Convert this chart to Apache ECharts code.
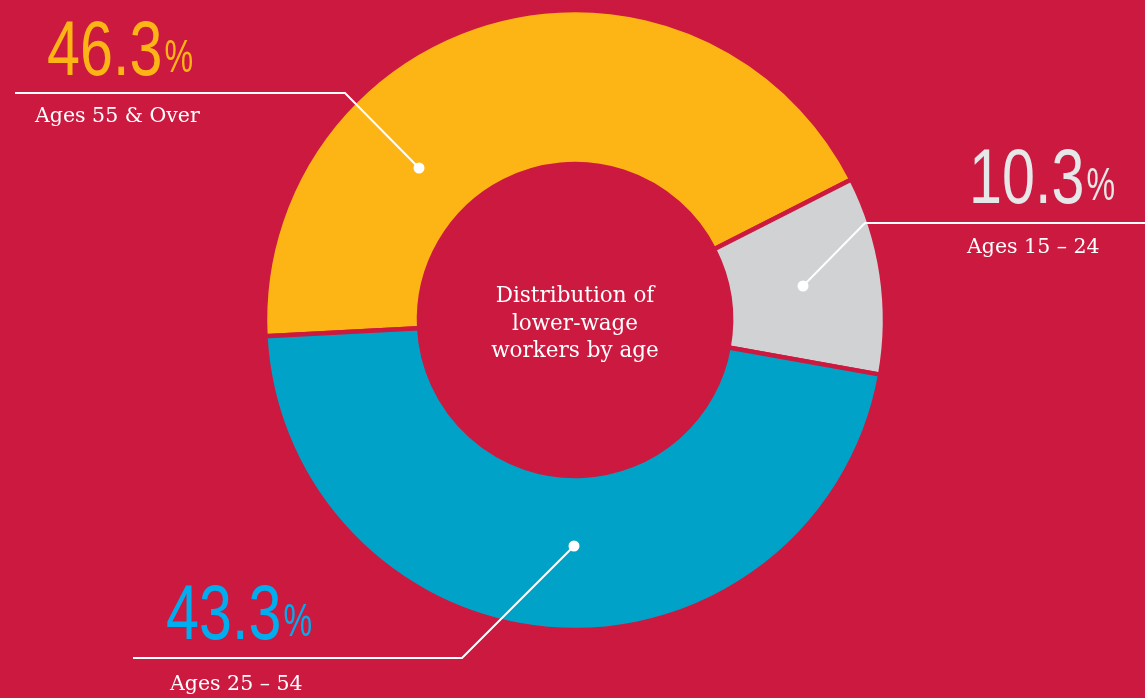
<!DOCTYPE html>
<html><head><meta charset="utf-8">
<script src="https://cdn.jsdelivr.net/npm/echarts@6/dist/echarts.min.js"></script>
<style>html,body{margin:0;padding:0;background:#CC1940;} #c{width:1145px;height:698px;}</style>
</head><body><div id="c"></div>
<script>
// Data
const categories = ['Ages 55 & Over', 'Ages 15 – 24', 'Ages 25 – 54'];
const sliceValues = [43.3, 10.3, 46.3];        // slice sizes as drawn
const labelValues = ['46.3', '10.3', '43.3'];  // printed percentages
const centerTitle = ['Distribution of', 'lower-wage', 'workers by age'];

const BG = '#CC1940';
const sliceColors = ['#FDB515', '#D1D2D4', '#00A3C7'];
const numberColors = ['#FDB515', '#E6E7E8', '#00AEEF'];

const NUM_FONT = '"Liberation Sans", Arial, sans-serif';
const SERIF = '"DejaVu Serif", serif';
const numSize = 78, pctSize = 46, nameSize = 20.5, centerSize = 21.5;
const numScale = 0.76, pctScale = 0.7;

// annotation layout: dot, elbow, end of rule, number position, name position
const annos = [
  {dot: [419, 168], elbow: [345, 93], end: [15, 93], num: [47, 53], name: [35, 117]},
  {dot: [803, 286], elbow: [865, 223], end: [1145, 223], num: [969, 181], name: [967, 248]},
  {dot: [574, 546], elbow: [462, 658], end: [133, 658], num: [166, 617], name: [170, 685]}
];

const ctx = document.createElement('canvas').getContext('2d');
function textWidth(t, size, fam) { ctx.font = size + 'px ' + fam; return ctx.measureText(t).width; }

const graphics = [];
annos.forEach((a, i) => {
  graphics.push({type: 'polyline', z: 100, silent: true,
    shape: {points: [a.dot, a.elbow, a.end]},
    style: {stroke: '#ffffff', lineWidth: 2, fill: null}});
  graphics.push({type: 'circle', z: 101, silent: true,
    shape: {cx: a.dot[0], cy: a.dot[1], r: 5.5}, style: {fill: '#ffffff'}});
  graphics.push({type: 'text', z: 100, silent: true, x: a.num[0], y: a.num[1], scaleX: numScale,
    style: {text: labelValues[i], font: numSize + 'px ' + NUM_FONT, fill: numberColors[i],
      align: 'left', verticalAlign: 'middle'}});
  const w = textWidth(labelValues[i], numSize, NUM_FONT) * numScale;
  graphics.push({type: 'text', z: 100, silent: true, x: a.num[0] + w + 2, y: a.num[1] + 6, scaleX: pctScale,
    style: {text: '%', font: pctSize + 'px ' + NUM_FONT, fill: numberColors[i],
      align: 'left', verticalAlign: 'middle'}});
  graphics.push({type: 'text', z: 100, silent: true, x: a.name[0], y: a.name[1],
    style: {text: categories[i], font: nameSize + 'px ' + SERIF, fill: '#ffffff',
      align: 'left', verticalAlign: 'middle'}});
});
graphics.push({type: 'text', z: 100, silent: true, x: 575, y: 324,
  style: {text: centerTitle.join('\n'), font: centerSize + 'px ' + SERIF, fill: '#ffffff',
    align: 'center', verticalAlign: 'middle', lineHeight: 27.5}});

const chart = echarts.init(document.getElementById('c'), null, {renderer: 'canvas'});
chart.setOption({
  backgroundColor: BG,
  animation: false,
  series: [{
    type: 'pie',
    center: [575, 320],
    radius: [156, 310],
    startAngle: 183,
    clockwise: true,
    silent: true,
    label: {show: false},
    labelLine: {show: false},
    itemStyle: {borderColor: BG, borderWidth: 4.5},
    data: categories.map((c, i) => ({name: c, value: sliceValues[i], itemStyle: {color: sliceColors[i]}}))
  }],
  graphic: graphics
});
</script></body></html>
